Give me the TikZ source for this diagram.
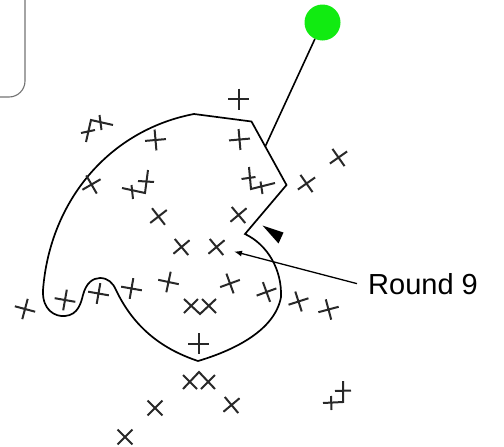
\documentclass[tikz,border=0pt]{standalone}
\usepackage{fontspec}
\setmainfont{Liberation Sans}
\usetikzlibrary{arrows.meta}
\definecolor{dotgreen}{RGB}{17,235,17}
\definecolor{mkgray}{RGB}{40,40,40}
\tikzset{
  mkline/.style={draw=mkgray,line width=2pt},
  mk/.pic={\draw[mkline] (-10.5,0)--(10.5,0) (0,-10.5)--(0,10.5);},
  blob/.style={draw=black,line width=1.7pt,line join=miter},
  frame/.style={draw=black!55,line width=1.1pt},
  conn/.style={draw=black,line width=1.6pt},
  callout/.style={draw=black,line width=1.3pt,-{Latex[length=8pt,width=6pt]}},
  lbltext/.style={font=\fontsize{29}{34}\selectfont,inner xsep=11pt,inner ysep=0pt}
}
\begin{document}
\begin{tikzpicture}[x=1pt,y=-1pt]
\useasboundingbox (0,0) rectangle (504,447);
% partial rounded frame at top left
\draw[frame,rounded corners=16pt] (25,-5) -- (25,97) -- (-5,97);
% green dot and its line
\node[circle,fill=dotgreen,minimum size=36pt,inner sep=0] (dot) at (322.5,22.5) {};
\coordinate (hit) at (265.5,146);
% blob outline
\draw[blob] (194,114)
  .. controls (110,130) and (50,200) .. (43,290)
  .. controls (42,310) and (55,317) .. (65,316)
  .. controls (78,315) and (81,303) .. (83,295)
  .. controls (86,283) and (93,278) .. (100,278)
  .. controls (108,278) and (113,283) .. (116,290)
  .. controls (135,330) and (165,350) .. (198,361)
  .. controls (235,350) and (275,330) .. (281,297)
  .. controls (282,270) and (268,245) .. (245,234)
  -- (286.5,185) -- (251.5,121.5) -- cycle;
\draw[conn] (dot) -- (hit);
% black wedge
\fill[black] (262.5,225.5) -- (283.5,232.5) -- (278.5,243.5) -- cycle;
% label and arrow
\node[lbltext,anchor=base west] (lbl) at (357,294) {Round 9};
\coordinate (tgt) at (234,251.5);
\draw[callout] (lbl.west) -- (tgt);
% single markers
\pic at (238.5,99) {mk};
\pic[rotate=5] at (155.5,140) {mk};
\pic[rotate=5] at (239.5,139.5) {mk};
\pic[rotate=30] at (91.5,184.5) {mk};
\pic[rotate=38] at (158.5,216.5) {mk};
\pic[rotate=40] at (238.5,215) {mk};
\pic[rotate=40] at (181.5,247) {mk};
\pic[rotate=40] at (216.5,247) {mk};
\pic[rotate=35] at (306.5,183.5) {mk};
\pic[rotate=35] at (338.5,157.5) {mk};
\pic[rotate=-15] at (25,309) {mk};
\pic[rotate=-10] at (65,300) {mk};
\pic[rotate=-10] at (98.5,293.5) {mk};
\pic[rotate=-10] at (131.5,288.5) {mk};
\pic[rotate=-12] at (168.5,282) {mk};
\pic[rotate=20] at (230,283.5) {mk};
\pic[rotate=20] at (266.5,292) {mk};
\pic[rotate=18] at (298.5,301.5) {mk};
\pic[rotate=15] at (328.5,309.5) {mk};
\pic at (198.5,343.5) {mk};
\pic[rotate=45] at (155,408) {mk};
\pic[rotate=40] at (231.5,405) {mk};
\pic[rotate=45] at (125,437) {mk};
% composite markers
\draw[mkline,line join=miter] (86,142)--(91,120)--(113,125);
\draw[mkline] (81,133)--(95,130) (99.5,115)--(101.5,130);
\draw[mkline,line join=miter] (122,188)--(145,193)--(148,170);
\draw[mkline] (131.5,185)--(133,199) (138,181)--(154,182);
\draw[mkline,line join=miter] (249,167)--(251,189)--(275,183);
\draw[mkline] (241.5,179)--(255.5,177) (260.5,181.5)--(262.5,194);
\draw[mkline,line join=miter] (184,299)--(200,314)--(216,299);
\draw[mkline] (198,299)--(184,313) (202,299)--(216,313);
\draw[mkline,line join=miter] (183,389)--(199,372)--(215,389);
\draw[mkline] (183,375)--(197,389) (201,389)--(215,375);
\draw[mkline,line join=miter] (323,403)--(343,402)--(343,381);
\draw[mkline] (331,396)--(331.5,410) (335,391)--(351,390.5);
\end{tikzpicture}
\end{document}
